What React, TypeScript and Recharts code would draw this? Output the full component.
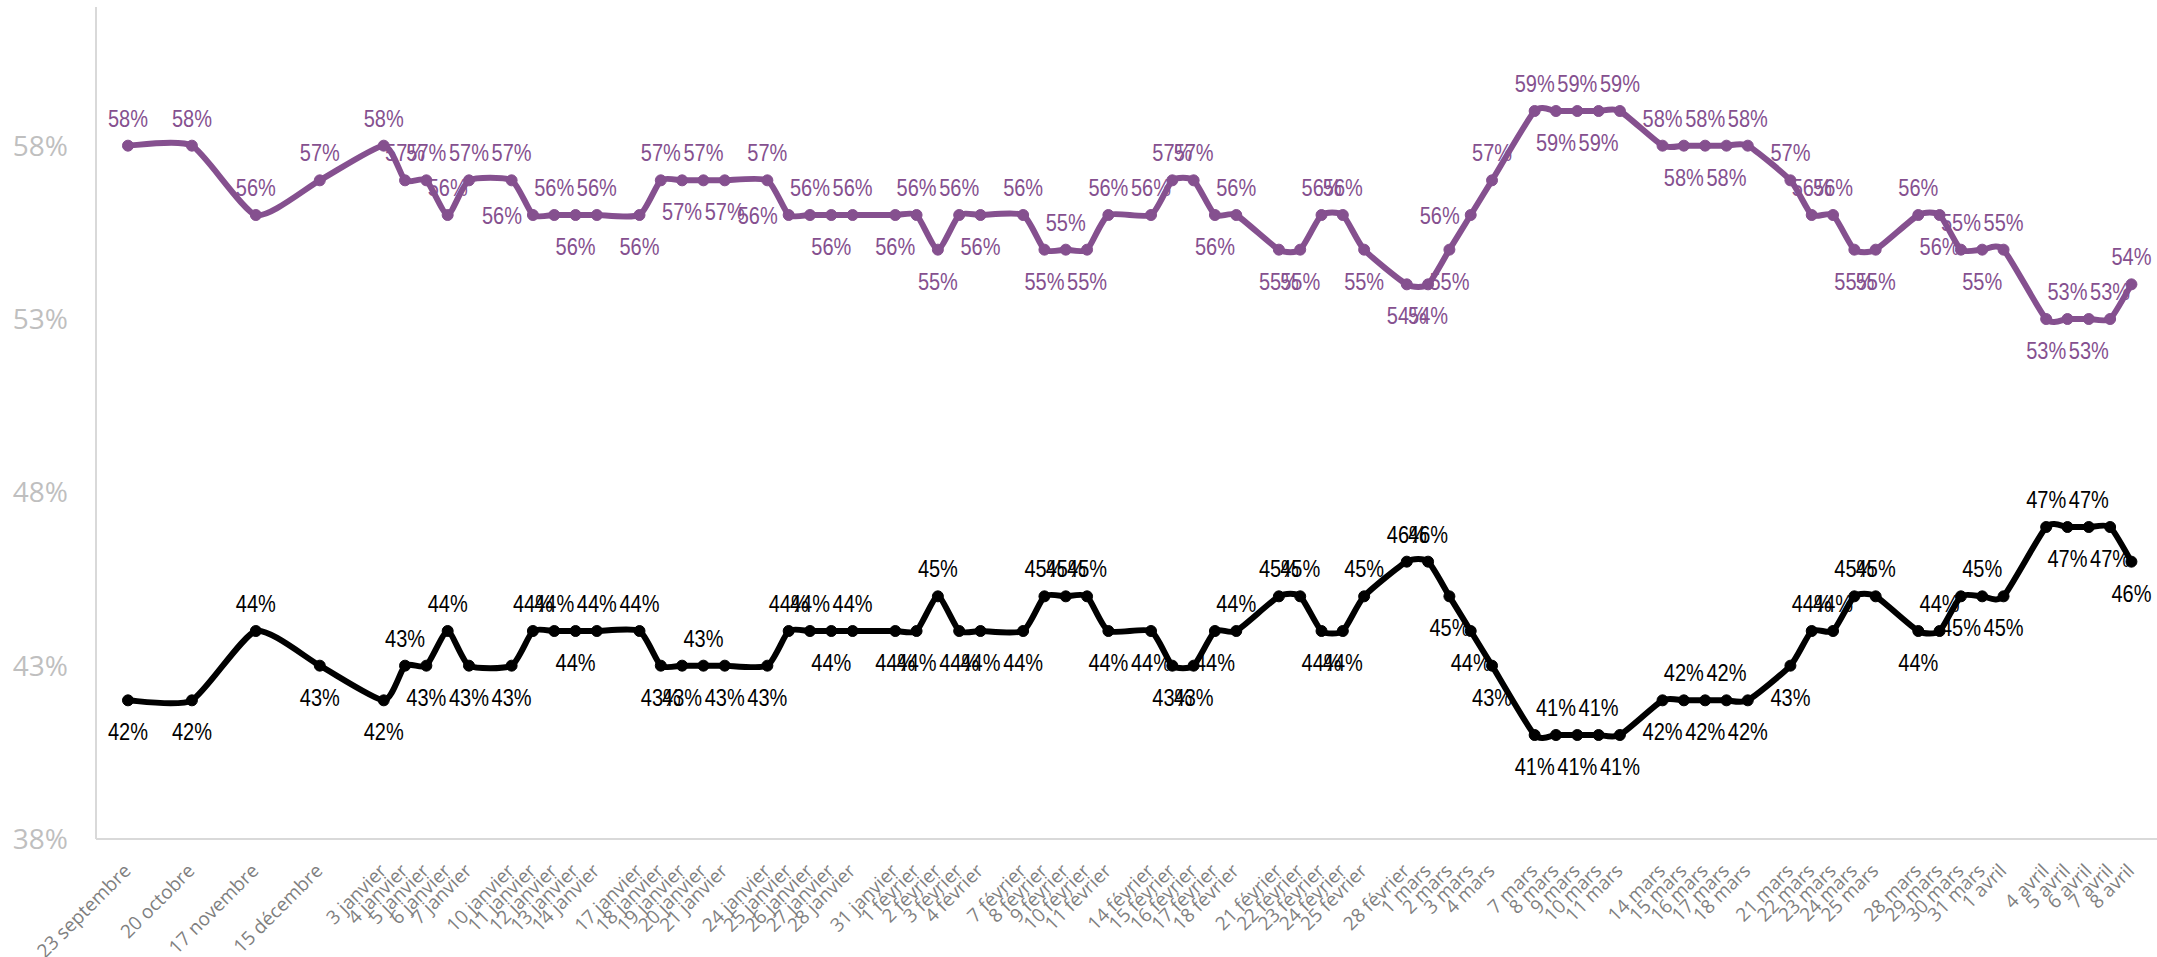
import React from 'react';
import { LineChart, Line, XAxis, YAxis } from 'recharts';

// x slot of each survey date (weekends leave one empty slot)
const slots = [
  0, 3, 6, 9,
  12, 13, 14, 15, 16, 18, 19, 20, 21, 22, 24, 25, 26, 27, 28, 30, 31, 32, 33, 34,
  36, 37, 38, 39, 40, 42, 43, 44, 45, 46, 48, 49, 50, 51, 52, 54, 55, 56, 57, 58,
  60, 61, 62, 63, 64, 66, 67, 68, 69, 70, 72, 73, 74, 75, 76, 78, 79, 80, 81, 82,
  84, 85, 86, 87, 88, 90, 91, 92, 93, 94,
];

const categories = [
  '23 septembre', '20 octobre', '17 novembre', '15 décembre',
  '3 janvier', '4 janvier', '5 janvier', '6 janvier', '7 janvier',
  '10 janvier', '11 janvier', '12 janvier', '13 janvier', '14 janvier',
  '17 janvier', '18 janvier', '19 janvier', '20 janvier', '21 janvier',
  '24 janvier', '25 janvier', '26 janvier', '27 janvier', '28 janvier',
  '31 janvier', '1 février', '2 février', '3 février', '4 février',
  '7 février', '8 février', '9 février', '10 février', '11 février',
  '14 février', '15 février', '16 février', '17 février', '18 février',
  '21 février', '22 février', '23 février', '24 février', '25 février',
  '28 février', '1 mars', '2 mars', '3 mars', '4 mars',
  '7 mars', '8 mars', '9 mars', '10 mars', '11 mars',
  '14 mars', '15 mars', '16 mars', '17 mars', '18 mars',
  '21 mars', '22 mars', '23 mars', '24 mars', '25 mars',
  '28 mars', '29 mars', '30 mars', '31 mars', '1 avril',
  '4 avril', '5 avril', '6 avril', '7 avril', '8 avril',
];

const purple = [
  58, 58, 56, 57,
  58, 57, 57, 56, 57,
  57, 56, 56, 56, 56,
  56, 57, 57, 57, 57,
  57, 56, 56, 56, 56,
  56, 56, 55, 56, 56,
  56, 55, 55, 55, 56,
  56, 57, 57, 56, 56,
  55, 55, 56, 56, 55,
  54, 54, 55, 56, 57,
  59, 59, 59, 59, 59,
  58, 58, 58, 58, 58,
  57, 56, 56, 55, 55,
  56, 56, 55, 55, 55,
  53, 53, 53, 53, 54,
];

const black = [
  42, 42, 44, 43,
  42, 43, 43, 44, 43,
  43, 44, 44, 44, 44,
  44, 43, 43, 43, 43,
  43, 44, 44, 44, 44,
  44, 44, 45, 44, 44,
  44, 45, 45, 45, 44,
  44, 43, 43, 44, 44,
  45, 45, 44, 44, 45,
  46, 46, 45, 44, 43,
  41, 41, 41, 41, 41,
  42, 42, 42, 42, 42,
  43, 44, 44, 45, 45,
  44, 44, 45, 45, 45,
  47, 47, 47, 47, 46,
];

// label placement per point: a = above, b = below, l = left
const purpleLabelPos = (
  'aaaa' + 'aaaaa' + 'alaba' + 'babab' + 'alaba' + 'babab' + 'ababa' + 'aaaba' +
  'bbaab' + 'bbbla' + 'ababa' + 'ababa' + 'aaabb' + 'ababa' + 'babaa'
).split('');
const blackLabelPos = (
  'bbab' + 'babab' + 'baaba' + 'abbab' + 'baaba' + 'bbabb' + 'baaab' + 'bbbba' +
  'aabba' + 'aabbb' + 'babab' + 'babab' + 'baaaa' + 'babab' + 'ababb'
).split('');

const yTicks = [38, 43, 48, 53, 58];

const PURPLE = '#85508f';
const AXIS_GREY = '#d9d9d9';

const data = slots.map((slot, i) => ({ slot, purple: purple[i], black: black[i] }));
const nameOfSlot: Record<number, string> = {};
slots.forEach((s, i) => { nameOfSlot[s] = categories[i]; });

// smoothed line, a softer Catmull-Rom, close to Excel's "smoothed line"
const smoothCurve = (context: any) => {
  let pts: number[][] = [];
  const k = 1 / 10;
  return {
    areaStart() {},
    areaEnd() {},
    lineStart() { pts = []; },
    lineEnd() {
      if (!pts.length) return;
      context.moveTo(pts[0][0], pts[0][1]);
      for (let i = 0; i < pts.length - 1; i++) {
        const p0 = pts[i - 1] || pts[i];
        const p1 = pts[i];
        const p2 = pts[i + 1];
        const p3 = pts[i + 2] || p2;
        context.bezierCurveTo(
          p1[0] + (p2[0] - p0[0]) * k, p1[1] + (p2[1] - p0[1]) * k,
          p2[0] - (p3[0] - p1[0]) * k, p2[1] - (p3[1] - p1[1]) * k,
          p2[0], p2[1],
        );
      }
    },
    point(x: number, y: number) { pts.push([+x, +y]); },
  };
};

const makeLabel = (pos: string[], color: string) => (props: any) => {
  const { x, y, value, index } = props;
  const p = pos[index];
  let dx = 0;
  let dy = -19;
  let anchor: 'middle' | 'end' | 'start' = 'middle';
  if (p === 'b') dy = 40;
  if (p === 'l') { dx = -11; dy = 9; anchor = 'end'; }
  return (
    <text key={`lbl-${index}`} x={x + dx} y={y + dy} textAnchor={anchor} fill={color}
      fontSize={24} fontFamily="'Liberation Sans', Arial, sans-serif"
      textLength={40} lengthAdjust="spacingAndGlyphs">
      {value}%
    </text>
  );
};

const DateTick = (props: any) => {
  const { x, y, payload } = props;
  return (
    <g transform={`translate(${x + 4},${y + 33})`}>
      <text textAnchor="end" transform="rotate(-45)" fill="#7f7f7f" fontSize={19} fontFamily="'Open Sans', sans-serif">
        {nameOfSlot[payload.value]}
      </text>
    </g>
  );
};

const App: React.FC = () => {
  return (
    <div style={{ position: 'absolute', left: 0, top: 0, width: 2157, height: 957, background: '#fff' }}>
      <LineChart width={2157} height={957} data={data} margin={{ top: 7, right: 0, left: 0, bottom: 0 }}>
        <XAxis
          dataKey="slot"
          type="number"
          domain={[-1.5, 95.2]}
          allowDataOverflow
          ticks={slots}
          interval={0}
          tick={<DateTick />}
          tickLine={false}
          tickSize={0}
          tickMargin={0}
          height={118}
          axisLine={{ stroke: AXIS_GREY, strokeWidth: 2 }}
        />
        <XAxis
          xAxisId="top"
          orientation="top"
          type="number"
          domain={[-1.5, 95.2]}
          tick={false}
          tickLine={false}
          height={0}
          axisLine={{ stroke: AXIS_GREY, strokeWidth: 2 }}
        />
        <YAxis
          type="number"
          domain={[38, 62]}
          ticks={yTicks}
          tickFormatter={(v: number) => `${v}%`}
          tick={{ fill: '#bfbfbf', fontSize: 28, fontFamily: "'Open Sans', sans-serif" }}
          tickLine={false}
          tickSize={0}
          tickMargin={28}
          width={96}
          axisLine={{ stroke: AXIS_GREY, strokeWidth: 2 }}
        />
        <Line
          dataKey="purple"
          type={smoothCurve as any}
          stroke={PURPLE}
          strokeWidth={6}
          dot={{ r: 5.5, fill: PURPLE, stroke: PURPLE, strokeWidth: 1 }}
          label={makeLabel(purpleLabelPos, PURPLE)}
          isAnimationActive={false}
        />
        <Line
          dataKey="black"
          type={smoothCurve as any}
          stroke="#000000"
          strokeWidth={6}
          dot={{ r: 5.5, fill: '#000000', stroke: '#000000', strokeWidth: 1 }}
          label={makeLabel(blackLabelPos, '#000000')}
          isAnimationActive={false}
        />
      </LineChart>
    </div>
  );
};

export default App;
